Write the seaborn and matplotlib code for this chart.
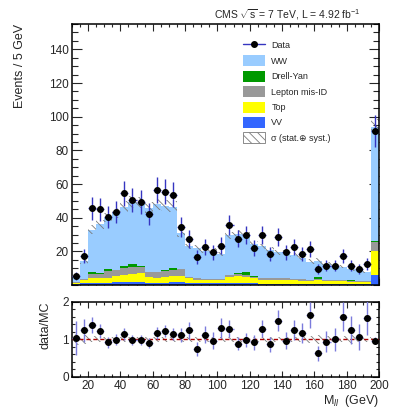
"""
Dilepton invariant mass M_ll for the WW selection, with data/MC ratio panel.
"""
import numpy as np
import pandas as pd
import matplotlib
matplotlib.use("Agg")
import matplotlib.pyplot as plt
from matplotlib.patches import Patch
from matplotlib.lines import Line2D
from matplotlib.ticker import MultipleLocator
import seaborn as sns

# Binning: 5 GeV bins from 10 to 200 GeV
BIN_LO = 10
BIN_HI = 200
BIN_W = 5

data = [5.5, 17.4, 45.5, 45.0, 40.5, 43.5, 54.4, 50.4, 49.5, 42.5,
        56.4, 55.4, 53.8, 34.4, 27.5, 16.5, 22.5, 19.6, 23.5, 35.5,
        27.6, 29.6, 22.2, 29.6, 18.4, 28.5, 19.4, 22.4, 18.4, 21.6,
        9.7, 11.5, 11.5, 17.4, 11.5, 9.7, 12.5, 91.6]

# Expected contributions per bin
ww = [3.2, 10.8, 25.5, 28.9, 30.5, 34.0, 35.1, 37.0, 37.8, 38.3,
      40.3, 38.3, 36.5, 21.2, 18.0, 18.0, 16.7, 16.9, 14.9, 23.4,
      23.5, 21.8, 19.0, 18.7, 16.7, 15.2, 15.2, 14.2, 12.5, 10.8,
      9.8, 9.4, 8.4, 7.9, 6.5, 6.5, 5.7, 67.8]
drell_yan = [0.2, 0.2, 0.7, 0.3, 1.0, 0.2, 1.4, 1.5, 0.2, 0.2,
             0.2, 0.2, 1.0, 0.3, 0.0, 0.0, 0.0, 0.0, 0.0, 0.2,
             0.3, 1.5, 0.5, 0.0, 0.0, 0.0, 0.0, 0.0, 0.0, 0.0,
             1.0, 0.0, 0.0, 0.0, 0.5, 0.0, 0.0, 0.7]
mis_id = [0.3, 0.5, 2.8, 2.5, 4.0, 3.5, 4.0, 4.5, 4.0, 2.5,
          3.0, 3.5, 3.5, 4.0, 1.0, 0.8, 0.8, 0.8, 0.8, 1.2,
          1.5, 1.5, 1.0, 1.0, 1.0, 1.0, 1.5, 1.0, 0.8, 0.5,
          0.5, 0.5, 0.5, 0.5, 0.5, 0.5, 0.3, 5.5]
top = [0.8, 1.8, 2.5, 2.8, 3.0, 3.5, 4.0, 4.5, 5.0, 3.5,
       3.0, 3.5, 3.5, 3.5, 2.5, 2.0, 2.0, 1.8, 1.8, 3.5,
       4.0, 3.5, 3.0, 2.5, 2.5, 2.5, 2.0, 2.0, 2.0, 2.0,
       2.5, 2.0, 2.0, 2.0, 1.5, 1.5, 1.5, 14.0]
vv = [0.5, 1.2, 1.5, 1.5, 1.5, 1.8, 2.0, 2.0, 2.0, 1.5,
      1.5, 1.5, 2.0, 2.0, 1.5, 1.2, 1.0, 1.0, 1.0, 1.2,
      1.2, 1.2, 1.0, 0.8, 0.8, 0.8, 0.8, 0.8, 0.7, 0.7,
      0.7, 0.6, 0.6, 0.6, 0.5, 0.5, 0.5, 6.0]

# Relative uncertainty of the expectation (stat + syst)
unc_rel = [0.15, 0.12, 0.08, 0.07, 0.07, 0.07, 0.07, 0.07, 0.07, 0.07,
           0.07, 0.07, 0.07, 0.07, 0.07, 0.07, 0.07, 0.07, 0.07, 0.07,
           0.07, 0.07, 0.07, 0.07, 0.07, 0.07, 0.07, 0.07, 0.08, 0.10,
           0.12, 0.10, 0.08, 0.08, 0.12, 0.08, 0.07, 0.05]

# Data / MC ratio per bin
ratio = [1.04, 1.24, 1.39, 1.23, 0.93, 0.99, 1.14, 0.99, 0.99, 0.91,
         1.18, 1.23, 1.14, 1.11, 1.24, 0.75, 1.13, 0.97, 1.31, 1.29,
         0.89, 0.99, 0.92, 1.29, 0.87, 1.50, 0.97, 1.26, 1.17, 1.65,
         0.63, 0.94, 1.00, 1.60, 1.26, 1.06, 1.57, 0.97]

processes = ["WW", "Drell-Yan", "Lepton mis-ID", "Top", "VV"]
colors = {"WW": "#99ccff", "Drell-Yan": "#009900", "Lepton mis-ID": "#999999",
          "Top": "#ffff00", "VV": "#3366ff"}

ERR_COLOR = "#3535c0"
RATIO_ERR_COLOR = "#7b7bdc"
HATCH_COLOR = "#7a7a7a"
HATCH = "\\\\\\\\"


def style_axis(ax, xmaj, ymaj, ymin_step, big=True):
    """ROOT-like ticks on all four sides, pointing in."""
    ax.xaxis.set_major_locator(MultipleLocator(20))
    ax.xaxis.set_minor_locator(MultipleLocator(5))
    ax.yaxis.set_major_locator(MultipleLocator(ymaj))
    ax.yaxis.set_minor_locator(MultipleLocator(ymin_step))
    ax.tick_params(which="both", direction="in", top=True, right=True,
                   width=0.8, labelsize=8.5, pad=2)
    ax.tick_params(axis="y", which="major", length=7 if big else 5)
    ax.tick_params(axis="y", which="minor", length=4 if big else 2.5)
    ax.tick_params(axis="x", which="major", length=xmaj)
    ax.tick_params(axis="x", which="minor", length=xmaj / 2)
    for sp in ax.spines.values():
        sp.set_visible(True)
        sp.set_linewidth(1.1)
        sp.set_color("black")


def main():
    sns.set_style("ticks")
    plt.rcParams["font.family"] = ["Liberation Sans", "DejaVu Sans"]
    plt.rcParams["mathtext.fontset"] = "custom"
    plt.rcParams["mathtext.rm"] = "Liberation Sans"
    plt.rcParams["mathtext.it"] = "Liberation Sans:italic"
    plt.rcParams["hatch.linewidth"] = 0.6

    edges = np.arange(BIN_LO, BIN_HI + BIN_W, BIN_W)
    centers = edges[:-1] + BIN_W / 2

    # long-form table for the stacked histogram
    comp = {"WW": ww, "Drell-Yan": drell_yan, "Lepton mis-ID": mis_id,
            "Top": top, "VV": vv}
    df = pd.concat([pd.DataFrame({"mll": centers, "events": comp[p], "process": p})
                    for p in processes], ignore_index=True)

    d = np.array(data)
    total = sum(np.array(comp[p]) for p in processes)
    u = np.array(unc_rel)
    r = np.array(ratio)

    fig = plt.figure(figsize=(3.99, 4.15), dpi=100)
    ax = fig.add_axes([0.180, 0.313, 0.770, 0.629])
    rax = fig.add_axes([0.180, 0.0916, 0.770, 0.181])

    # --- main panel ---
    sns.histplot(data=df, x="mll", weights="events", hue="process",
                 hue_order=processes, palette=colors, binwidth=BIN_W,
                 binrange=(BIN_LO, BIN_HI), multiple="stack", element="step",
                 alpha=1, linewidth=0, legend=False, ax=ax)
    ax.stairs(total * (1 + u), edges, baseline=total * (1 - u), fill=True,
              facecolor="none", edgecolor=HATCH_COLOR, hatch=HATCH, lw=0)
    ax.errorbar(centers, d, yerr=np.sqrt(d), xerr=BIN_W / 2, fmt="o",
                color="black", ms=4, ecolor=ERR_COLOR, elinewidth=1.0,
                capsize=0, zorder=5)
    ax.set_xlim(BIN_LO, BIN_HI)
    ax.set_ylim(0, 155)
    style_axis(ax, 5, 20, 5, big=True)
    ax.tick_params(axis="x", labelbottom=False)
    ax.set_xlabel("")
    ax.set_ylabel("Events / 5 GeV", fontsize=9, loc="top")
    ax.yaxis.set_label_coords(-0.15, 1.0)
    ax.set_yticks([20, 40, 60, 80, 100, 120, 140])

    # legend
    handles = [Line2D([], [], color=ERR_COLOR, lw=1.0, marker="o",
                      mfc="black", mec="black", ms=4)]
    handles += [Patch(facecolor=colors[p], edgecolor="none") for p in processes]
    handles.append(Patch(facecolor="white", edgecolor=HATCH_COLOR, hatch=HATCH, lw=0.6))
    labels = ["Data"] + processes + ["σ (stat.⊕ syst.)"]
    fig.legend(handles, labels, loc="upper left",
               bbox_to_anchor=(243 / 399, 1 - 40 / 415), frameon=False,
               fontsize=6.5, handlelength=2.4, handleheight=1.48,
               labelspacing=0.5, handletextpad=0.75, borderpad=0,
               borderaxespad=0)

    fig.text(360 / 399, 1 - 19 / 415,
             r"CMS $\sqrt{\mathrm{s}}$ = 7 TeV, L = 4.92 fb$^{-1}$",
             ha="right", va="baseline", fontsize=7.5)

    # --- ratio panel ---
    rax.stairs(1 + u, edges, baseline=1 - u, fill=True, facecolor="none",
               edgecolor=HATCH_COLOR, hatch=HATCH, lw=0)
    rax.axhline(1, color="#aa0000", ls=(0, (3, 2)), lw=1.0, zorder=3)
    rax.errorbar(centers, r, yerr=r / np.sqrt(d), xerr=BIN_W / 2, fmt="o",
                 color="black", ms=4, ecolor=RATIO_ERR_COLOR,
                 elinewidth=1.0, capsize=0, zorder=5)
    rax.set_xlim(BIN_LO, BIN_HI)
    rax.set_ylim(0, 2)
    style_axis(rax, 4, 1, 0.2, big=False)
    rax.set_ylabel("data/MC", fontsize=9, loc="top")
    rax.yaxis.set_label_coords(-0.065, 1.0)
    rax.set_xlabel(r"M$_{\mathit{ll}}$  (GeV)", fontsize=9, loc="right",
                   labelpad=1)

    fig.savefig("out.png", dpi=100)


if __name__ == "__main__":
    main()
